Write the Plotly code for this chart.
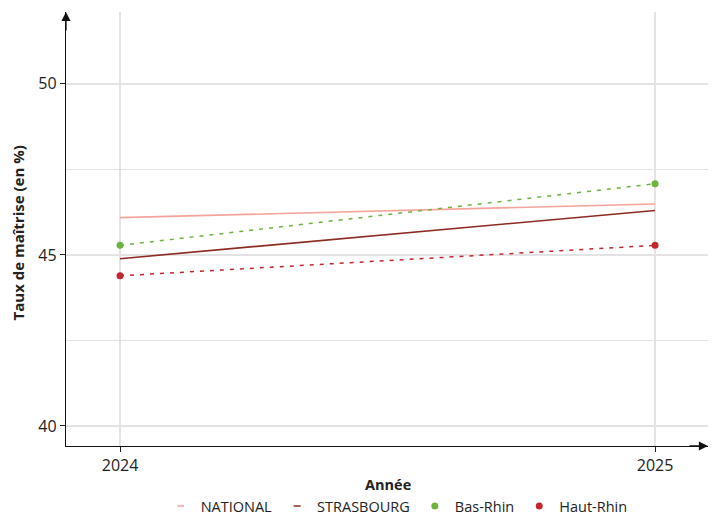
import plotly.graph_objects as go

years = [2024, 2025]
national = [46.09, 46.49]
strasbourg = [44.89, 46.30]
bas_rhin = [45.28, 47.08]
haut_rhin = [44.39, 45.28]

c_nat = "#F4A49A"
c_str = "#8E2B22"
c_bas = "#6DB33F"
c_haut = "#C1272D"

FONT = "Open Sans"

fig = go.Figure()
fig.add_trace(go.Scatter(x=years, y=national, mode="lines", line=dict(color=c_nat, width=1.6), showlegend=False))
fig.add_trace(go.Scatter(x=years, y=strasbourg, mode="lines", line=dict(color=c_str, width=1.6), showlegend=False))
fig.add_trace(go.Scatter(x=years, y=bas_rhin, mode="lines+markers", line=dict(color=c_bas, width=1.5, dash="4px,6px"),
                         marker=dict(size=7, color=c_bas), showlegend=False))
fig.add_trace(go.Scatter(x=years, y=haut_rhin, mode="lines+markers", line=dict(color=c_haut, width=1.5, dash="4px,6px"),
                         marker=dict(size=7, color=c_haut), showlegend=False))
fig.add_trace(go.Scatter(x=[None], y=[None], mode="markers", name="NATIONAL",
                         marker=dict(symbol="line-ew", size=5, color=c_nat, line=dict(color=c_nat, width=1.5))))
fig.add_trace(go.Scatter(x=[None], y=[None], mode="markers", name="STRASBOURG",
                         marker=dict(symbol="line-ew", size=5, color=c_str, line=dict(color=c_str, width=1.5))))
fig.add_trace(go.Scatter(x=[None], y=[None], mode="markers", name="Bas-Rhin",
                         marker=dict(size=7, color=c_bas)))
fig.add_trace(go.Scatter(x=[None], y=[None], mode="markers", name="Haut-Rhin",
                         marker=dict(size=7, color=c_haut)))

grid = "#E3E3E3"
fig.update_layout(
    width=716, height=507,
    margin=dict(l=58, r=16, t=4, b=69, autoexpand=False),
    plot_bgcolor="white", paper_bgcolor="white",
    font=dict(family=FONT, size=16, color="#222222"),
    legend=dict(orientation="h", x=0.515, xanchor="center", y=-0.1382, yanchor="middle",
                font=dict(size=14.5), tracegroupgap=0, bgcolor="rgba(0,0,0,0)"),
    xaxis=dict(range=[2023.899, 2025.099], tickvals=years, ticktext=["2024", "2025"],
               showgrid=True, gridcolor=grid, gridwidth=1.5, zeroline=False,
               ticks="outside", ticklen=5, tickcolor="#222222", automargin=False,
               showline=True, linecolor="#111111", linewidth=1.3, fixedrange=True),
    yaxis=dict(range=[39.415, 52.1], tickvals=[40, 45, 50],
               showgrid=True, gridcolor=grid, gridwidth=1.5, zeroline=False,
               minor=dict(tickvals=[42.5, 47.5], showgrid=True, gridcolor=grid, gridwidth=1.2),
               ticks="outside", ticklen=5, tickcolor="#222222", automargin=False,
               showline=True, linecolor="#111111", linewidth=1.3, fixedrange=True),
    annotations=[
        dict(x=0, y=1, xref="paper", yref="paper", ax=0, ay=20, axref="pixel", ayref="pixel",
             showarrow=True, arrowhead=2, arrowsize=1.4, arrowwidth=1.3, arrowcolor="#111111", text=""),
        dict(x=1, y=0, xref="paper", yref="paper", ax=-20, ay=0, axref="pixel", ayref="pixel",
             showarrow=True, arrowhead=2, arrowsize=1.4, arrowwidth=1.3, arrowcolor="#111111", text=""),
        dict(text="<b>Année</b>", x=0.5016, y=-0.0876, xref="paper", yref="paper",
             xanchor="center", yanchor="middle", showarrow=False, font=dict(size=14.5)),
        dict(text="<b>Taux de maîtrise (en %)</b>", x=-0.0748, y=0.492, xref="paper", yref="paper",
             xanchor="center", yanchor="middle", textangle=-90, showarrow=False, font=dict(size=15)),
    ],
)

fig.write_html("out.html")
